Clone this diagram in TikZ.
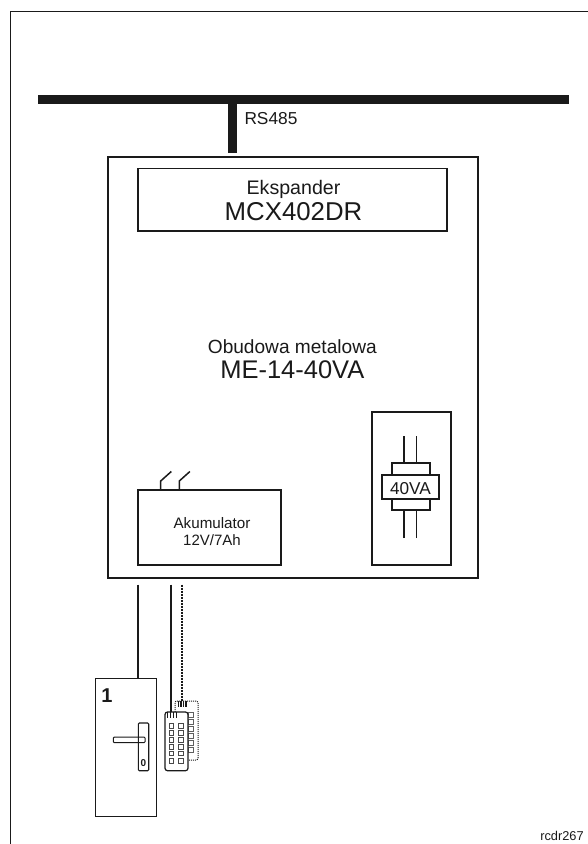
\documentclass[tikz,border=0pt]{standalone}
\usepackage{fontspec}
\setmainfont{Liberation Sans}
\definecolor{ink}{HTML}{1A1A1A}
\newcommand{\fs}[1]{\fontsize{#1}{#1}\selectfont}
\tikzset{
  every node/.style={text=ink,outer sep=0pt},
  box/.style={draw=ink,rectangle,inner sep=0pt,anchor=north west,fill=white},
  lbl/.style={inner sep=0pt,anchor=base},
  wire/.style={draw=ink,line width=1.7pt},
  thinwire/.style={draw=ink,line width=1.3pt},
  key/.style={draw=ink!80,line width=0.6pt,rectangle,minimum width=4.5pt,minimum height=4.5pt,inner sep=0pt},
  dkey/.style={key,draw=ink!70},
  tooth/.style={draw=ink,line width=1.4pt},
}
\newcommand{\boxat}[7][]{% name x1 y1 x2 y2 width
  \node[box,line width=#7pt,minimum width={(#5-#3)*1pt},minimum height={(#6-#4)*1pt},#1] (#2) at (#3,#4) {};}
\begin{document}
\begin{tikzpicture}[x=1pt,y=-1pt]
\useasboundingbox (0,0) rectangle (588,844);
\fill[white] (0,0) rectangle (588,844);
% outer frame
\coordinate (fa) at (10.5,844);
\coordinate (fb) at (10.5,11.7);
\coordinate (fc) at (588,11.7);
\draw[draw=ink,line width=1.1pt] (fa) -- (fb) -- (fc);
% bus
\node[draw=none,fill=ink,rectangle,inner sep=0pt,anchor=north west,minimum width=531pt,minimum height=9.2pt] (bus) at (38,94.6) {};
\coordinate (stubend) at (232.6,153);
\coordinate (stubtop) at (232.6,103);
\draw[draw=ink,line width=9pt] (stubtop) -- (stubend);
\node[lbl,anchor=base west] (rs) at (244.5,124) {\fs{17.3}RS485};
% main enclosure
\boxat{main}{107.5}{156.5}{477.5}{578}{2}
\boxat{exp}{137.6}{168.5}{447}{230.7}{1.8}
\node[lbl] (t1) at (293.5,194.5) {\fs{19.6}Ekspander};
\node[lbl] (t2) at (293.5,220.5) {\fs{25.8}MCX402DR};
\node[lbl] (t3) at (292.3,353.5) {\fs{19.1}Obudowa metalowa};
\node[lbl] (t4) at (292.3,378) {\fs{25.5}ME-14-40VA};
% battery
\boxat{bat}{137.7}{490}{280.7}{564.7}{1.8}
\node[lbl] (t5) at (212,528.3) {\fs{15.2}Akumulator};
\node[lbl] (t6) at (212,545.7) {\fs{15}12V/7Ah};
\coordinate (p1) at (160.7,489);
\coordinate (p2) at (179.3,489);
\draw[thinwire,line width=1.5pt] (p1) -- ++(0,-8) -- ++(10.6,-9.5);
\draw[thinwire,line width=1.5pt] (p2) -- ++(0,-8) -- ++(10.6,-9.5);
% transformer
\boxat{tr}{372}{412}{450.7}{565}{1.8}
\boxat{up}{391.7}{463}{429.7}{476}{1.6}
\boxat{lo}{391.7}{498}{429.7}{510}{1.6}
\boxat{mid}{382}{475}{439}{499.3}{1.8}
\node[lbl] (t7) at (410.5,494) {\fs{17.2}40VA};
\coordinate (a1) at (404,436); \coordinate (a2) at (416.5,436);
\coordinate (b1) at (404,538); \coordinate (b2) at (416.5,538);
\draw[thinwire] (a1) -- (a1 |- up.north);
\draw[thinwire] (a2) -- (a2 |- up.north);
\draw[thinwire] (b1) -- (b1 |- lo.south);
\draw[thinwire] (b2) -- (b2 |- lo.south);
% door
\boxat{door}{95.5}{678}{156.5}{816}{1}
\node[lbl] (t8) at (107,702.7) {\fs{20}\bfseries 1};
\node[draw=ink,line width=1pt,rounded corners=1pt,rectangle,inner sep=0pt,anchor=north west,minimum width=31.7pt,minimum height=5.7pt] (lever) at (113.3,737) {};
\node[draw=ink,line width=1.1pt,rounded corners=1pt,rectangle,inner sep=0pt,anchor=north west,minimum width=10.4pt,minimum height=47.7pt] (plate) at (138.3,723) {};
\node[lbl] (t9) at (143.5,766) {\fs{10}\bfseries 0};
% door wire
\coordinate (w1) at (138,584.7);
\draw[wire] (w1) -- (w1 |- door.north);
% dotted keypad (behind)
\node[draw=ink,densely dotted,line width=1pt,rounded corners=2pt,rectangle,inner sep=0pt,anchor=north west,minimum width=23pt,minimum height=59pt] (kp2) at (175,701) {};
\foreach \y in {714.7,721.7,728.7,735.7,742.7,749.7} \node[dkey] at (191,\y) {};
\foreach \x in {178.5,181,183.5,186} \draw[tooth,line width=1.1pt] (\x,701) -- (\x,707);
% solid keypad
\node[draw=ink,fill=white,line width=1.2pt,rounded corners=2.5pt,rectangle,inner sep=0pt,anchor=north west,minimum width=23pt,minimum height=58.7pt] (kp1) at (165,712) {};
\foreach \x in {171.3,180.7} \foreach \y in {725.7,732.7,740,746.7,753.3,760.7} \node[key] at (\x,\y) {};
\foreach \x in {167.5,170.5,173.5,176.5} \draw[tooth] (\x,712) -- (\x,718);
% keypad wires
\coordinate (w2) at (171.3,584.7);
\coordinate (w3) at (181.7,584.7);
\draw[wire] (w2) -- (w2 |- kp1.north);
\draw[draw=ink,line width=2.2pt,dash pattern=on 1.8pt off 1.2pt] (w3) -- (w3 |- kp2.north);
\node[lbl] (t10) at (562,840.7) {\fs{12.8}rcdr267};
\end{tikzpicture}
\end{document}
